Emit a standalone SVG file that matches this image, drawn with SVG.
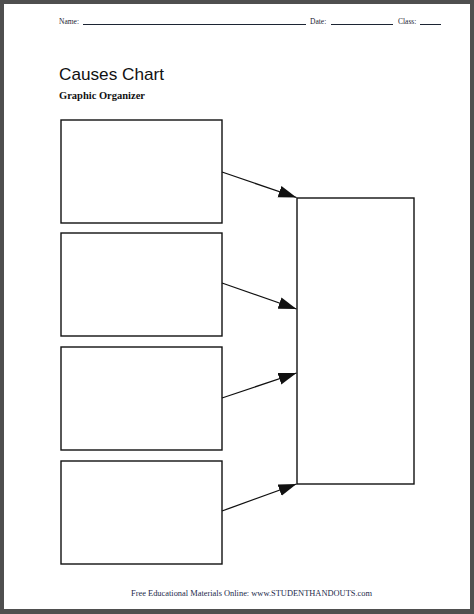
<svg xmlns="http://www.w3.org/2000/svg" width="474" height="614" viewBox="0 0 474 614">
<style>
.hdr{font-family:"Liberation Serif",serif;font-size:7.5px;fill:#1c2433}
.uline{stroke:#1c2433;stroke-width:1}
.box{fill:#fff;stroke:#111;stroke-width:1.4}
.conn{stroke:#111;stroke-width:1.3;fill:none;marker-end:url(#ah)}
</style>
<defs>
<marker id="ah" markerUnits="userSpaceOnUse" markerWidth="19" markerHeight="13" refX="18" refY="6.5" orient="auto">
<path d="M0,0.5 L18,6.5 L0,12.5 z" fill="#111"/>
</marker>
</defs>
<rect x="0" y="0" width="474" height="614" fill="#4f4f4f"/>
<rect x="4" y="4" width="466" height="605" fill="#fff"/>
<g id="header">
<text class="hdr" x="59" y="24">Name:</text>
<line class="uline" x1="83" y1="24.5" x2="306" y2="24.5"/>
<text class="hdr" x="310" y="24">Date:</text>
<line class="uline" x1="331" y1="24.5" x2="393" y2="24.5"/>
<text class="hdr" x="398" y="24">Class:</text>
<line class="uline" x1="420" y1="24.5" x2="441" y2="24.5"/>
</g>
<g id="title">
<text x="59" y="80" font-family="'Liberation Sans',sans-serif" font-size="17" font-weight="300" fill="#111" textLength="105" lengthAdjust="spacingAndGlyphs">Causes Chart</text>
<text x="59" y="99" font-family="'Liberation Serif',serif" font-size="9.5" font-weight="bold" fill="#111" textLength="86" lengthAdjust="spacingAndGlyphs">Graphic Organizer</text>
</g>
<g id="cause1"><rect class="box" x="61" y="120" width="161" height="103"/></g>
<g id="cause2"><rect class="box" x="61" y="233" width="161" height="103"/></g>
<g id="cause3"><rect class="box" x="61" y="347" width="161" height="103"/></g>
<g id="cause4"><rect class="box" x="61" y="461" width="161" height="103"/></g>
<g id="effect"><rect class="box" x="297" y="198" width="117" height="286"/></g>
<g id="connectors">
<line class="conn" x1="222" y1="172" x2="296.5" y2="197.5"/>
<line class="conn" x1="222" y1="283" x2="296.5" y2="309"/>
<line class="conn" x1="222" y1="398" x2="296.5" y2="373"/>
<line class="conn" x1="222" y1="511" x2="296.5" y2="484"/>
</g>
<g id="footer">
<text x="251.5" y="596" text-anchor="middle" font-family="'Liberation Serif',serif" font-size="7.5" fill="#1c2a4a" textLength="241" lengthAdjust="spacingAndGlyphs">Free Educational Materials Online: www.STUDENTHANDOUTS.com</text>
</g>
</svg>
